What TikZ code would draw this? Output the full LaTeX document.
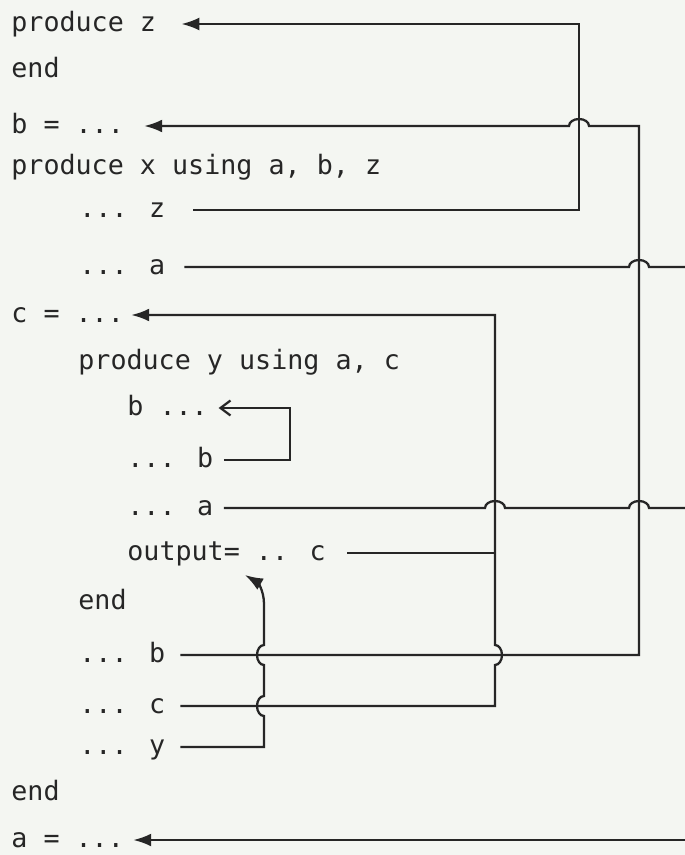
\documentclass[tikz,border=0pt]{standalone}
\usepackage{fontspec}
\usepackage{tikz}
\usetikzlibrary{arrows.meta}
\usetikzlibrary{calc}
\newfontfamily\listingfont{DejaVu Sans Mono}
\definecolor{paper}{RGB}{244,246,242}
\definecolor{ink}{RGB}{38,38,38}
\tikzset{>={Latex[length=0.36cm,width=0.26cm]}}
\tikzset{code/.style={anchor=west, inner sep=0pt, text height=8.3pt, text depth=0pt,
    text=ink, font=\listingfont\fontsize{15.2}{18}\selectfont}}
\tikzset{wire/.style={draw=ink, line width=1.3pt}}

\begin{document}
\begin{tikzpicture}[x=0.02cm, y=0.02cm]
        \fill [paper] (0,0) rectangle (685,-855);
        \useasboundingbox (0,0) rectangle (685,-855);

        \node [code] (ProduceZ) at (11,-24) {produce z};
        \node [code] (EndZ) at (11,-70) {end};
        \node [code] (BDef) at (11,-126) {b = ...};
        \node [code] (ProduceX) at (11,-167) {produce x using a, b, z};
        \node [code] (XUseZ) at (79,-210) {... z};
        \node [code] (XUseA) at (79,-267) {... a};
        \node [code] (CDef) at (11,-315) {c = ...};
        \node [code] (ProduceY) at (78,-362) {produce y using a, c};
        \node [code] (YBDef) at (127,-408) {b ...};
        \node [code] (YUseB) at (127,-460) {... b};
        \node [code] (YUseA) at (127,-508) {... a};
        \node [code] (YOutput) at (127,-553) {output= .. c};
        \node [code] (EndY) at (78,-602) {end};
        \node [code] (XUseB) at (79,-655) {... b};
        \node [code] (XUseC) at (79,-706) {... c};
        \node [code] (XUseY) at (79,-747) {... y};
        \node [code] (EndX) at (11,-793) {end};
        \node [code] (ADef) at (11,-840) {a = ...};

        \coordinate (ColY) at (264,0);
        \coordinate (ColInner) at (290,0);
        \coordinate (ColC) at (495,0);
        \coordinate (ColZ) at (579,0);
        \coordinate (ColB) at (639,0);
        \coordinate (Edge) at (685,0);
        \coordinate (OutputBend) at (0,-604);
        \coordinate (OutputTip) at ([xshift=2.36cm,yshift=-0.44cm]YOutput.west);

        \draw [wire, ->] ([xshift=0.56cm]XUseZ.east) -- (XUseZ.east -| ColZ)
            -- (ProduceZ.east -| ColZ) -- ([xshift=0.5cm]ProduceZ.east);

        \draw [wire, ->] ([xshift=0.3cm]XUseB.east) -- (XUseB.east -| ColB)
            -- (BDef.east -| ColB) -- ($(BDef.east -| ColZ)+(10,0)$)
            arc [start angle=0, end angle=180, x radius=10, y radius=7]
            -- ([xshift=0.4cm]BDef.east);

        \draw [wire] ([xshift=0.38cm]XUseA.east) -- ($(XUseA.east -| ColB)-(10,0)$)
            arc [start angle=180, end angle=0, x radius=10, y radius=7]
            -- (XUseA.east -| Edge);

        \draw [wire, ->] ([xshift=0.3cm]XUseC.east) -- (XUseC.east -| ColC)
            -- ($(XUseB.east -| ColC)-(0,10)$)
            arc [start angle=-90, end angle=90, x radius=7, y radius=10]
            -- (CDef.east -| ColC) -- ([xshift=0.14cm]CDef.east);
        \draw [wire] ([xshift=0.42cm]YOutput.east) -- (YOutput.east -| ColC);

        \draw [wire, -{Straight Barb[length=0.2cm,width=0.3cm]}] ([xshift=0.21cm]YUseB.east)
            -- (YUseB.east -| ColInner) -- (YBDef.east -| ColInner)
            -- ([xshift=0.21cm]YBDef.east);

        \draw [wire] ([xshift=0.21cm]YUseA.east) -- ($(YUseA.east -| ColC)-(10,0)$)
            arc [start angle=180, end angle=0, x radius=10, y radius=7]
            -- ($(YUseA.east -| ColB)-(10,0)$)
            arc [start angle=180, end angle=0, x radius=10, y radius=7]
            -- (YUseA.east -| Edge);

        \draw [wire, ->] ([xshift=0.3cm]XUseY.east) -- (XUseY.east -| ColY)
            -- ($(XUseC.east -| ColY)-(0,10)$)
            arc [start angle=270, end angle=90, x radius=7, y radius=10]
            -- ($(XUseB.east -| ColY)-(0,10)$)
            arc [start angle=270, end angle=90, x radius=7, y radius=10]
            -- (ColY |- OutputBend) .. controls +(0,14) and +(12,-7) .. (OutputTip);

        \draw [wire, ->] (ADef.east -| Edge) -- ([xshift=0.18cm]ADef.east);
\end{tikzpicture}
\end{document}
